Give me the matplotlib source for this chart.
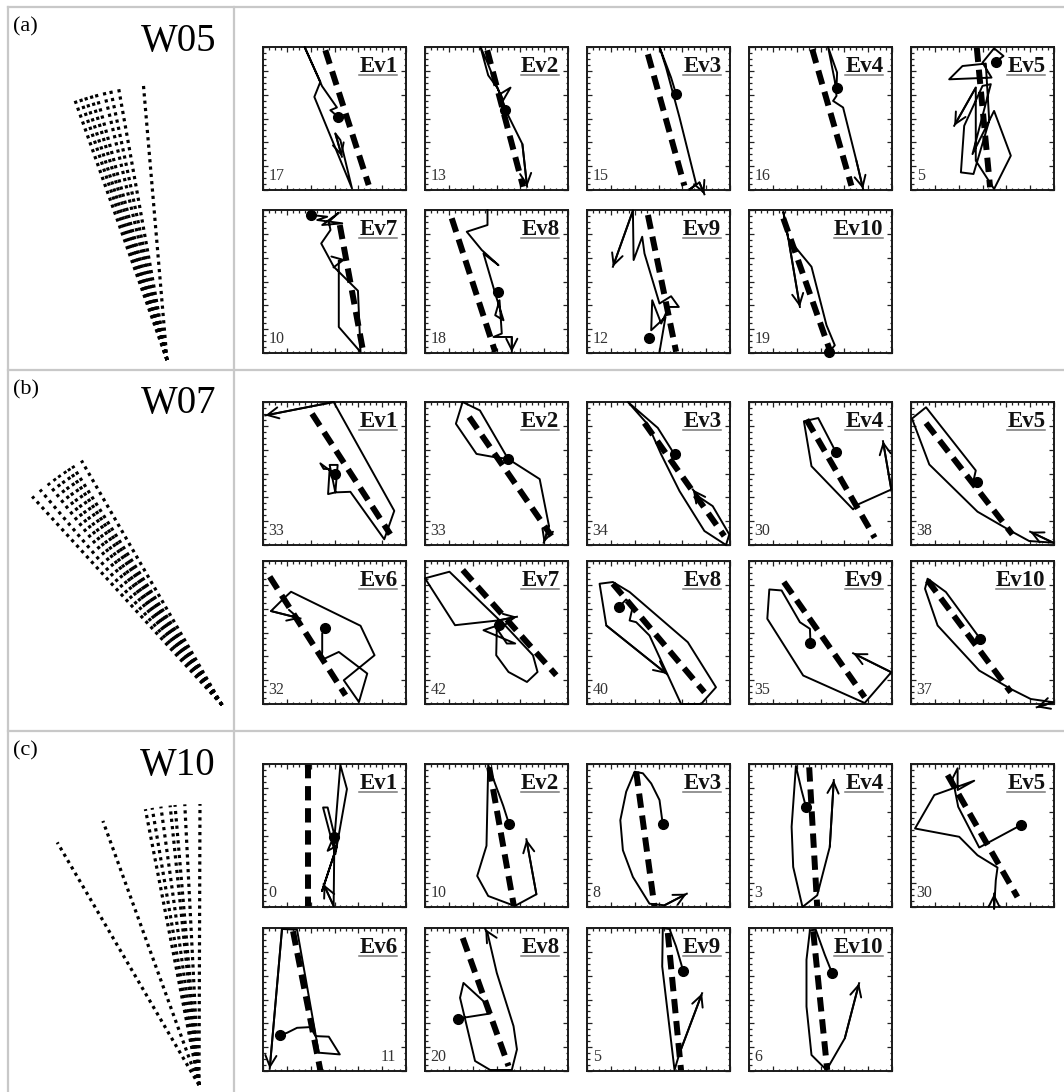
import numpy as np
import matplotlib.pyplot as plt
from matplotlib.lines import Line2D
from matplotlib.transforms import IdentityTransform

plt.rcParams['font.family'] = ['Liberation Serif', 'DejaVu Serif']

W, H = 1064, 1092

# fan diagrams: tilt of each line from vertical (deg, + leans left) and length (px)
w05_angles = [19.5, 18.3, 17.2, 16.0, 14.9, 13.2, 11.8, 10.1, 4.9]
w05_length = 278
w07_angles = [42.3, 40.2, 38.1, 36.6, 35.4, 34.0, 33.0, 32.0, 29.9]
w07_length = 282
w10_angles = [30.3, 20.0, 11.0, 9.6, 7.8, 5.9, 4.9, 2.9, -0.2]
w10_length = 281

# small panels: coordinates in box units 0..100, y measured from top
a_labels = ['Ev1', 'Ev2', 'Ev3', 'Ev4', 'Ev5', 'Ev7', 'Ev8', 'Ev9', 'Ev10']
a_counts = ['17', '13', '15', '16', '5', '10', '18', '12', '19']
a_trend = [((43.6, 2.3), (73.9, 96.5)), ((43.5, 2.3), (68.6, 97.7)), ((42.6, 5.1), (68.1, 97.0)),
           ((44.2, 1.6), (71.6, 97.0)), ((46.0, 0.5), (55.3, 98.1)), ((53.7, 10.5), (70.1, 99.3)),
           ((18.7, 5.8), (49.1, 99.3)), ((42.6, 3.5), (62.3, 99.1)), ((24.0, 5.8), (56.5, 98.1))]
a_dots = [(52.4, 48.8), (55.8, 44.2), (62.3, 33.0), (61.2, 28.4), (59.3, 10.2),
          (33.6, 3.5), (50.7, 57.2), (43.3, 89.5), (56.0, 99.3)]
a_paths = [
    [(52.4, 48.8), (47.1, 44.2), (51.7, 42.3), (41.3, 27.4), (29.1, 0), (40.1, 24.4), (35.9, 34.9),
     (62.2, 98.8), (54.1, 65.1), (50.6, 60.5), (55.2, 76.7)],
    [(55.8, 44.2), (51.2, 33.7), (59.8, 28.4), (54.7, 37.2), (50.5, 28.4), (44.2, 19.8), (38.8, 0),
     (43.0, 9.3), (52.3, 32.6), (58.1, 47.7), (68.1, 67.9), (71.4, 97.7)],
    [(62.3, 33.0), (58.8, 21.4), (50.7, 0), (55.3, 14.4), (64.7, 49.3), (76.3, 95.8), (71.6, 99.8),
     (78.6, 94.7), (82.1, 103)],
    [(61.2, 28.4), (61.6, 17.9), (55.3, 0), (60.0, 23.7), (61.2, 34.2), (58.8, 37.7), (65.8, 42.3),
     (75.1, 79.5), (79.8, 99.3)],
    [(59.3, 10.2), (64.7, 6.3), (58.1, 0.9), (50.0, 10.9), (56.3, 21.4), (26.7, 22.6), (36.0, 13.3),
     (52.3, 11.6), (54.7, 51.6), (43.7, 88.8), (34.9, 87.7), (37.2, 55.1), (50.0, 27.2), (55.8, 26.0),
     (43.0, 74.9), (58.1, 44.7), (69.8, 76.0), (58.1, 99.3), (45.3, 79.5), (45.3, 28.4), (30.2, 55.1)],
    [(33.6, 3.5), (44.9, 4.7), (37.9, 7.0), (55.4, 9.3), (41.4, 10.5), (53.0, 1.9), (46.0, 8.2),
     (47.2, 14.0), (40.7, 23.4), (49.5, 39.7), (66.4, 56.5), (68.2, 99.3), (53.0, 81.8), (53.0, 35.5),
     (57.7, 34.6)],
    [(43.7, 0), (43.7, 10.5), (29.2, 15.2), (39.7, 28.0), (51.4, 38.6), (40.9, 30.4), (49.1, 58.4),
     (54.9, 77.1), (49.1, 73.6), (52.1, 63.1), (53.7, 86.4), (47.9, 88.8), (60.7, 88.8), (60.7, 99.3)],
    [(50.7, 99.3), (54.9, 74.8), (44.9, 84.1), (45.6, 63.1), (51.9, 79.4), (57.2, 67.8), (64.2, 67.8),
     (58.8, 60.3), (50.7, 65.4), (40.2, 30.4), (38.6, 18.7), (32.6, 35.0), (32.1, 0.5), (18.1, 39.7)],
    [(56.0, 99.3), (60.0, 94.6), (54.2, 80.6), (43.7, 39.7), (27.4, 19.9), (24.0, 1.2), (28.1, 23.4),
     (35.6, 67.8)],
]

b_labels = ['Ev1', 'Ev2', 'Ev3', 'Ev4', 'Ev5', 'Ev6', 'Ev7', 'Ev8', 'Ev9', 'Ev10']
b_counts = ['33', '33', '34', '30', '38', '32', '42', '40', '35', '37']
b_trend = [((34.3, 8.2), (89.0, 92.5)), ((30.9, 10.5), (88.4, 93.7)), ((40.2, 14.7), (96.0, 93.7)),
           ((40.2, 12.3), (87.9, 94.9)), ((10.5, 14.7), (70.9, 92.6)), ((4.7, 11.0), (57.7, 93.9)),
           ((26.4, 6.3), (91.8, 79.9)), ((18.1, 15.9), (82.1, 91.8)), ((24.4, 14.7), (80.9, 95.3)),
           ((11.6, 13.6), (69.8, 91.8))]
b_dots = [(50.1, 50.4), (58.1, 39.8), (61.2, 36.7), (60.7, 34.9), (46.5, 55.8),
          (43.7, 47.2), (51.4, 44.9), (22.3, 32.2), (43.0, 57.5), (48.4, 54.4)]
b_paths = [
    [(50.1, 50.4), (40.1, 42.9), (42.4, 46.8), (46.6, 46.8), (45.5, 64.4), (50.6, 63.2), (52.2, 44.0),
     (46.6, 44.0), (50.6, 63.2), (61.1, 62.8), (84.8, 96.0), (91.8, 76.1), (49.4, 0), (1.6, 9.4)],
    [(58.1, 39.8), (38.4, 5.9), (26.3, 0), (21.6, 15.2), (36.0, 36.3), (48.8, 38.6), (58.1, 39.8),
     (80.2, 53.9), (86.7, 86.7), (83.0, 98.4)],
    [(61.2, 36.7), (49.5, 18.1), (28.6, 0), (42.6, 15.8), (51.9, 36.7), (64.7, 62.3), (82.1, 90.2),
     (97.2, 100), (99.5, 92.6), (87.9, 72.8), (77.4, 65.8), (74.0, 61.2)],
    [(60.7, 34.9), (48.4, 11.2), (38.4, 13.5), (43.7, 44.9), (72.8, 75.1), (76.3, 71.6), (99.5, 61.2),
     (93.7, 27.4)],
    [(46.5, 55.8), (43.0, 58.1), (45.3, 47.9), (10.5, 3.7), (0.7, 11.6), (12.8, 43.7), (46.5, 76.7),
     (69.8, 90.2), (82.6, 97.2), (99.5, 98.4), (83.3, 90.7)],
    [(43.7, 47.2), (41.4, 50.7), (41.4, 63.6), (40.7, 69.4), (53.0, 63.6), (72.9, 78.7), (67.1, 98.6),
     (56.5, 83.4), (78.0, 65.9), (68.2, 45.3), (19.6, 21.5), (14.5, 26.2), (5.6, 35.0), (26.2, 40.2)],
    [(51.4, 44.9), (40.9, 48.4), (63.1, 57.7), (57.2, 57.7), (50.2, 47.2), (49.8, 65.9), (58.4, 77.6),
     (71.3, 84.6), (78.7, 77.6), (75.5, 65.9), (52.6, 41.4), (21.0, 44.9), (0, 12.1), (17.1, 7.5),
     (52.1, 41.4), (64.3, 39.0)],
    [(22.3, 32.2), (27.4, 26.9), (32.1, 31.5), (29.8, 41.6), (34.4, 42.8), (43.7, 52.1), (65.8, 100),
     (79.8, 100), (90.2, 88.3), (70.5, 56.8), (29.8, 21.7), (18.1, 14.7), (8.8, 15.9), (13.5, 45.1),
     (55.8, 79.0)],
    [(43.0, 57.5), (42.6, 47.4), (35.6, 42.8), (22.8, 20.6), (14.2, 19.9), (12.8, 40.4), (37.9, 80.1),
     (80.9, 99.3), (99.5, 77.8), (72.8, 64.5)],
    [(48.4, 54.4), (24.4, 21.7), (11.6, 12.4), (9.8, 19.4), (18.6, 45.1), (47.7, 76.6), (69.8, 89.5),
     (83.7, 96.5), (99.5, 98.8), (87.9, 102.3)],
]

c_labels = ['Ev1', 'Ev2', 'Ev3', 'Ev4', 'Ev5', 'Ev6', 'Ev8', 'Ev9', 'Ev10']
c_counts = ['0', '10', '8', '3', '30', '11', '20', '5', '6']
c_trend = [((31.2, 0), (31.2, 100)), ((44.9, 2.3), (62.1, 99.1)), ((34.4, 5.4), (47.2, 100)),
           ((42.1, 2.3), (47.7, 100)), ((25.6, 7.7), (74.4, 93.0)), ((21.0, 2.3), (40.2, 100)),
           ((26.4, 7.0), (58.4, 96.5)), ((56.5, 3.5), (65.8, 100)), ((44.9, 2.3), (54.7, 99.3))]
c_dots = [(49.4, 50.9), (58.8, 42.1), (53.0, 42.3), (39.8, 29.9), (76.7, 42.8),
          (11.7, 74.9), (23.4, 63.3), (67.4, 30.4), (58.1, 31.5)]
c_paths = [
    [(49.4, 50.9), (45.2, 60.7), (51.7, 57.2), (41.3, 88.8), (51.7, 57.2), (45.2, 30.4), (42.0, 30.4),
     (50.6, 63.1), (58.7, 17.5), (54.1, 0.7), (49.9, 52.6), (49.4, 99.3), (42.4, 84.1)],
    [(58.8, 42.1), (54.7, 29.2), (44.2, 0.7), (43.0, 57.2), (36.5, 78.3), (44.2, 92.3), (62.8, 99.3),
     (77.9, 91.1), (70.9, 52.6)],
    [(53.0, 42.3), (50.7, 25.2), (44.9, 13.6), (39.1, 6.5), (33.3, 5.4), (27.4, 19.4), (23.3, 39.3),
     (25.1, 60.3), (32.1, 79.0), (43.7, 97.7), (54.2, 98.8), (69.8, 90.7)],
    [(39.8, 29.9), (36.7, 18.2), (32.8, 1.4), (29.8, 43.9), (30.9, 72.0), (37.4, 100), (47.7, 91.8),
     (56.5, 57.9), (59.3, 11.2)],
    [(76.7, 42.8), (47.7, 58.4), (33.0, 29.9), (29.1, 10.0), (32.6, 3.0), (32.6, 18.2), (44.2, 11.7),
     (16.3, 21.7), (2.8, 45.1), (33.7, 50.9), (46.5, 63.8), (60.5, 72.4), (59.3, 81.3), (58.1, 101.2),
     (58.1, 90.7)],
    [(11.7, 74.9), (16.8, 73.3), (23.8, 69.8), (33.2, 69.3), (36.7, 75.6), (46.0, 76.0), (53.7, 88.4),
     (39.0, 87.2), (23.8, 1.2), (13.3, 0.7), (4.7, 98.4)],
    [(23.4, 63.3), (45.6, 59.8), (40.9, 51.2), (26.9, 38.4), (24.5, 48.8), (35.0, 93.0), (45.6, 99.3),
     (60.7, 99.3), (64.3, 84.9), (61.9, 68.6), (50.2, 31.4), (43.7, 3.5), (42.1, 0.7)],
    [(67.4, 30.4), (62.3, 12.9), (57.7, 0.7), (53.0, 0), (52.6, 26.9), (61.2, 99.3), (64.7, 87.6),
     (80.5, 45.6)],
    [(58.1, 31.5), (53.0, 18.7), (46.7, 1.2), (42.6, 1.6), (40.2, 22.2), (40.2, 54.9), (43.7, 88.8),
     (54.2, 99.3), (67.0, 77.1), (77.0, 38.6)],
]

fig = plt.figure(figsize=(W / 100, H / 100), dpi=100)

# background layer in pixel coordinates: table lines, fans, titles
bg = fig.add_axes([0, 0, 1, 1])
bg.set_xlim(0, W)
bg.set_ylim(H, 0)
bg.axis('off')

grid_col = '#c8c8c8'
for x in [8, 234]:
    bg.plot([x, x], [7, H], color=grid_col, lw=1.6)
for y in [7, 370, 731]:
    bg.plot([8, W], [y, y], color=grid_col, lw=1.6)


def draw_fan(ax, x0, y0, angles, length):
    for a in angles:
        r = np.radians(a)
        ax.plot([x0, x0 - length * np.sin(r)], [y0, y0 - length * np.cos(r)],
                color='black', lw=2.3, linestyle=(0, (1, 1.3)), dash_capstyle='butt')


draw_fan(bg, 167, 360, w05_angles, w05_length)
draw_fan(bg, 222, 705, w07_angles, w07_length)
draw_fan(bg, 199, 1085, w10_angles, w10_length)

for top, tag, name in [(7, '(a)', 'W05'), (370, '(b)', 'W07'), (731, '(c)', 'W10')]:
    bg.text(13, top + 20, tag, fontsize=16, ha='left', va='center')
    bg.text(216, top + 34, name, fontsize=28, ha='right', va='center')

col_left = [263, 425, 587, 749, 911]
box = 143
labels_drawn = []


def small_panel(left, top, label, count, trend, dot, path, count_right=False):
    ax = fig.add_axes([left / W, 1 - (top + box) / H, box / W, box / H])
    ax.set_xlim(0, 100)
    ax.set_ylim(100, 0)
    ax.set_xticks(np.linspace(0, 100, 7))
    ax.set_yticks(np.linspace(0, 100, 7))
    ax.set_xticks(np.linspace(0, 100, 25), minor=True)
    ax.set_yticks(np.linspace(0, 100, 25), minor=True)
    ax.tick_params(which='both', direction='in', top=True, right=True,
                   labelbottom=False, labelleft=False, width=0.9, color='#222')
    ax.tick_params(which='major', length=3.5)
    ax.tick_params(which='minor', length=1.8)
    for s in ax.spines.values():
        s.set_linewidth(1.4)
        s.set_color('#1a1a1a')

    (tx0, ty0), (tx1, ty1) = trend
    ax.plot([tx0, tx1], [ty0, ty1], color='black', lw=4.3,
            linestyle=(0, (2.4, 1.3)), dash_capstyle='butt', zorder=2)

    px = [p[0] for p in path]
    py = [p[1] for p in path]
    ax.plot(px, py, color='black', lw=1.4, clip_on=False, zorder=3)
    ax.annotate('', xy=path[-1], xytext=path[-2], annotation_clip=False,
                arrowprops=dict(arrowstyle='->,head_length=0.8,head_width=0.4',
                                lw=1.4, color='black', shrinkA=0, shrinkB=0))
    ax.plot([dot[0]], [dot[1]], 'o', color='black', ms=7, clip_on=False, zorder=4)

    t = ax.text(0.94, 0.935, label, transform=ax.transAxes, fontsize=16.5,
                fontweight='bold', ha='right', va='top', color='#111')
    labels_drawn.append(t)
    if count_right:
        ax.text(0.93, 0.04, count, transform=ax.transAxes, fontsize=11.5,
                ha='right', va='bottom', color='#333')
    else:
        ax.text(0.04, 0.04, count, transform=ax.transAxes, fontsize=11.5,
                ha='left', va='bottom', color='#333')


def panel_row(tops, labels, counts, trends, dots, paths, right_count=()):
    n_top = 5
    for i in range(len(labels)):
        if i < n_top:
            left, top = col_left[i], tops[0]
        else:
            left, top = col_left[i - n_top], tops[1]
        small_panel(left, top, labels[i], counts[i], trends[i], dots[i], paths[i],
                    count_right=labels[i] in right_count)


panel_row([47, 210], a_labels, a_counts, a_trend, a_dots, a_paths)
panel_row([402, 561], b_labels, b_counts, b_trend, b_dots, b_paths)
panel_row([764, 928], c_labels, c_counts, c_trend, c_dots, c_paths, right_count=('Ev6',))

# underline the event labels
fig.canvas.draw()
renderer = fig.canvas.get_renderer()
for t in labels_drawn:
    bb = t.get_window_extent(renderer)
    fig.add_artist(Line2D([bb.x0, bb.x1], [bb.y0 + 2, bb.y0 + 2], color='#777', lw=1.1,
                          transform=IdentityTransform()))

fig.savefig('out.png', dpi=100)
